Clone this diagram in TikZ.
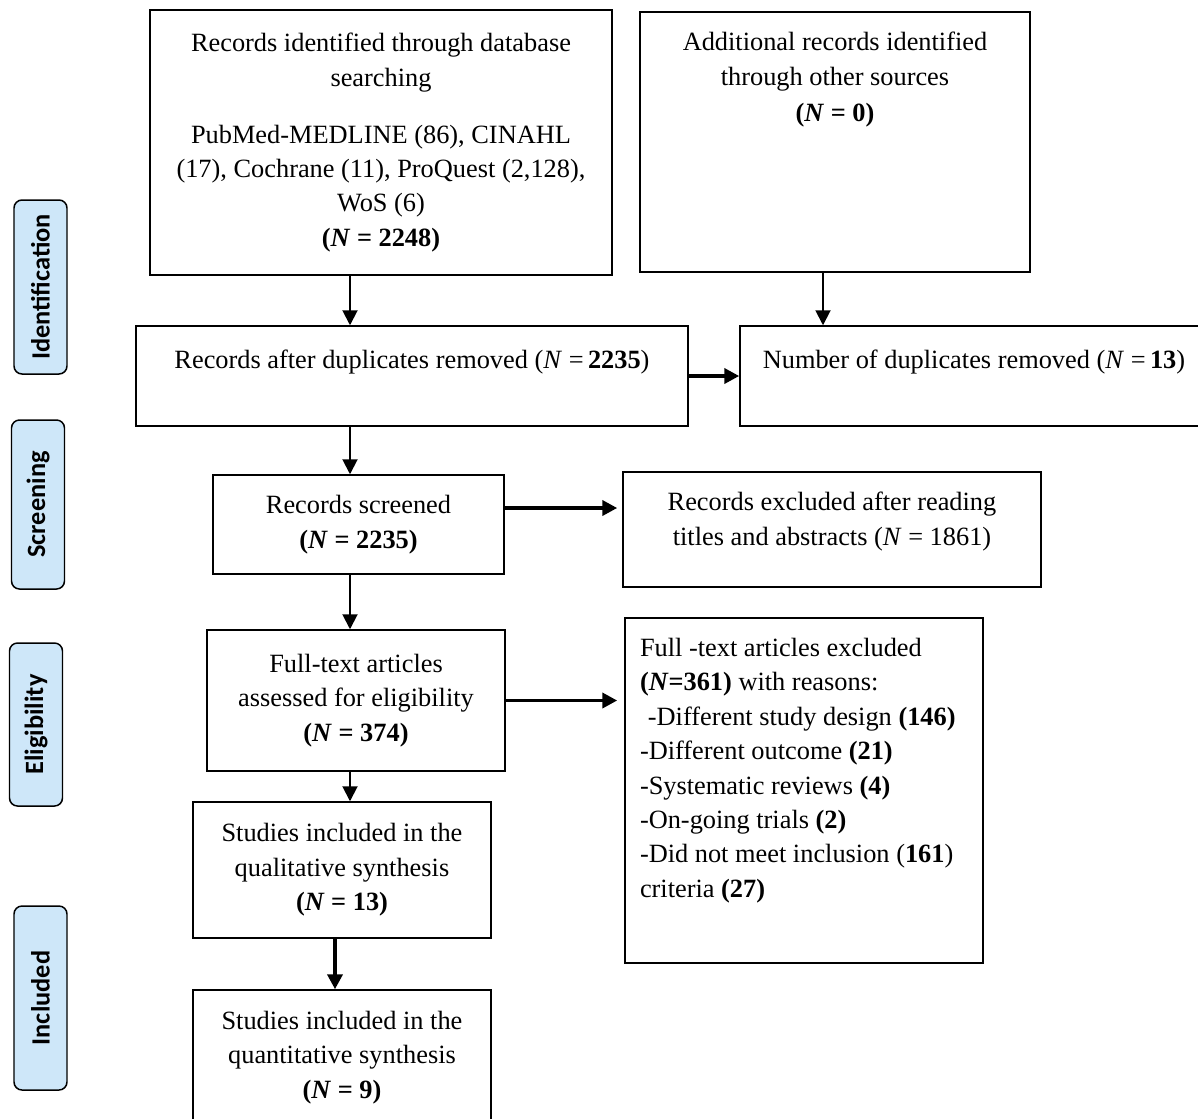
\documentclass[tikz,border=0pt]{standalone}
\usepackage{fontspec}
\setmainfont{Liberation Serif}
\newfontfamily\sidefont{Carlito}
\usetikzlibrary{arrows.meta}
\definecolor{sideblue}{RGB}{206,231,249}
% text block of a box: width, height, vertical position
\newcommand{\boxtext}[4][c]{\parbox[c][#3][#1]{#2}{\centering #4}}

\begin{document}
\begin{tikzpicture}[x=0.2mm, y=-0.2mm, >={Triangle[length=3mm,width=3mm]},
    box/.style={draw, line width=0.85pt, inner sep=0pt, font=\fontsize{15}{19.6}\selectfont},
    side/.style={draw, line width=0.85pt, rounded corners=1.6mm, fill=sideblue, rotate=90, inner sep=0pt, minimum height=10.6mm, font=\sidefont\bfseries\fontsize{15}{17}\selectfont},
    arr/.style={->, line width=1.1pt},
    fat/.style={->, line width=2.2pt}]
    \useasboundingbox (0,0) rectangle (1198,1118);

    % stage labels
    \node[side, minimum width=34.8mm] (ident) at (40.5,287) {Identification};
    \node[side, minimum width=33.8mm] (scr) at (38,504.5) {Screening};
    \node[side, minimum width=32.6mm] (elig) at (36,724.5) {Eligibility};
    \node[side, minimum width=36.8mm] (incl) at (40.5,998) {Included};

    % boxes
    \node[box] (search) at (381,142.5) {\boxtext{92.4mm}{53mm}{Records identified through database\\ searching\\[4.5mm] PubMed-MEDLINE (86), CINAHL\\ (17), Cochrane (11), ProQuest (2,128),\\ WoS (6)\\ \textbf{(\textit{N} = 2248)}}};
    \node[box] (other) at (835,142) {\boxtext[t]{78mm}{52mm}{\vspace*{4mm}Additional records identified\\ through other sources\\[0.5mm] \textbf{(\textit{N} = 0)}}};
    \node[box] (dedup) at (412,376) {\boxtext[t]{110.4mm}{20mm}{\vspace*{4.8mm}Records after duplicates removed (\textit{N} =\,\textbf{2235})}};
    \node[box] (dupl) at (974,376) {\boxtext[t]{93.6mm}{20mm}{\vspace*{4.8mm}Number of duplicates removed (\textit{N} =\,\textbf{13})}};
    \node[box] (screen) at (358.5,524.5) {\boxtext{58.2mm}{19.8mm}{Records screened\\ \textbf{(\textit{N} = 2235)}}};
    \node[box] (titles) at (832,529.5) {\boxtext[t]{83.6mm}{23mm}{\vspace*{4mm}Records excluded after reading\\ titles and abstracts (\textit{N} = 1861)}};
    \node[box] (full) at (356,700.5) {\boxtext{59.6mm}{28.2mm}{Full-text articles\\ assessed for eligibility\\ \textbf{(\textit{N} = 374)}}};
    \node[box] (excl) at (804,790.5) {\parbox[c][69mm][t]{71.6mm}{\raggedright\leftskip=3mm\vspace*{4mm}Full -text articles excluded\\
        \textbf{(\textit{N}=361)} with reasons:\\
        \hspace{0.3em}-Different study design \textbf{(146)}\\
        -Different outcome \textbf{(21)}\\
        -Systematic reviews \textbf{(4)}\\
        -On-going trials \textbf{(2)}\\
        -Did not meet inclusion (\textbf{161})\\
        criteria \textbf{(27)}}};
    \node[box] (qual) at (342,870) {\boxtext{59.6mm}{27.2mm}{Studies included in the\\ qualitative synthesis\\ \textbf{(\textit{N} = 13)}}};
    \node[box] (quant) at (342,1065) {\boxtext[t]{59.6mm}{30mm}{\vspace*{4.2mm}Studies included in the\\ quantitative synthesis\\ \textbf{(\textit{N} = 9)}}};

    % arrows
    \coordinate (spine) at (350,0);
    \coordinate (spine2) at (335,0);
    \draw[arr] (search.south -| spine) -- (dedup.north -| spine);
    \draw[arr] ([xshift=-2.4mm]other.south) -- ([xshift=-2.4mm]other.south |- dupl.north);
    \draw[fat] (dedup.east) -- (dupl.west);
    \draw[arr] (dedup.south -| spine) -- (screen.north -| spine);
    \draw[fat, shorten >=1mm] ([yshift=3.3mm]screen.east) -- ([yshift=3.3mm]screen.east -| titles.west);
    \draw[arr] (screen.south -| spine) -- (full.north -| spine);
    \draw[fat, shorten >=1.4mm] (full.east) -- (full.east -| excl.west);
    \draw[arr] (full.south -| spine) -- (qual.north -| spine);
    \draw[fat] (qual.south -| spine2) -- (quant.north -| spine2);
\end{tikzpicture}
\end{document}
